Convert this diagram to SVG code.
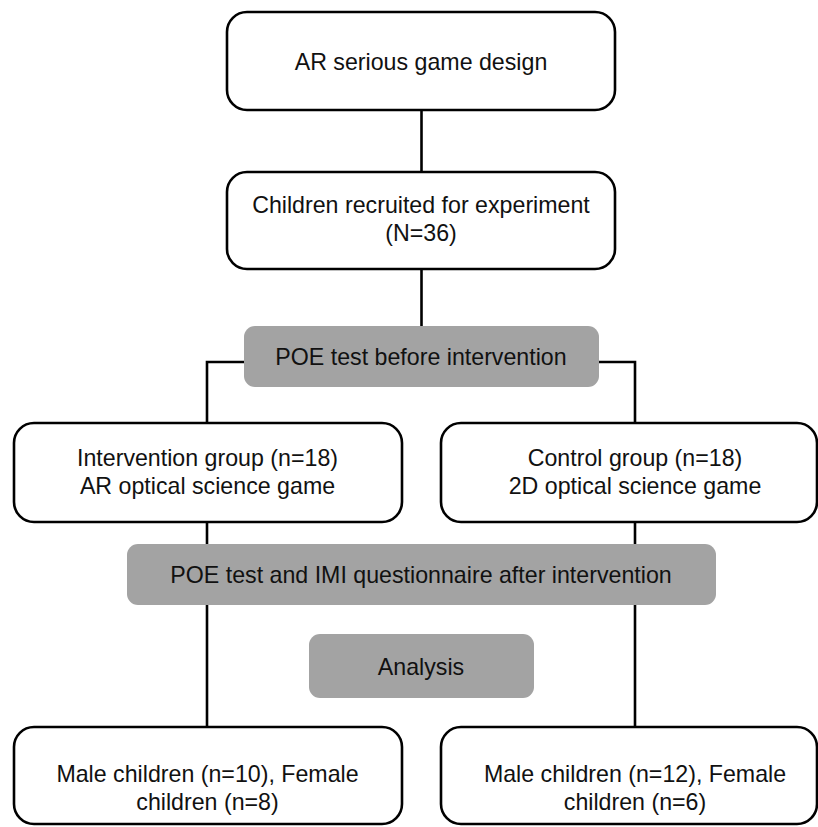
<svg xmlns="http://www.w3.org/2000/svg" width="818" height="827" viewBox="0 0 818 827">
<style>
.box{fill:#ffffff;stroke:#000000;stroke-width:2.6}
.gray{fill:#a3a3a3;stroke:none}
.line{fill:none;stroke:#000000;stroke-width:2.6}
text{font-family:"Liberation Sans",Arial,Helvetica,sans-serif;font-size:23.2px;fill:#111111;text-anchor:middle}
</style>
<rect width="818" height="827" fill="#ffffff"/>
<g id="connectors">
<line class="line" x1="421.5" y1="110" x2="421.5" y2="172"/>
<line class="line" x1="421.5" y1="269" x2="421.5" y2="326"/>
<polyline class="line" points="244,362 207,362 207,423"/>
<polyline class="line" points="599,362 635,362 635,423"/>
<line class="line" x1="207" y1="522" x2="207" y2="727"/>
<line class="line" x1="635" y1="522" x2="635" y2="727"/>
</g>
<g id="node-design">
<rect class="box" x="227" y="12" width="388" height="98" rx="20"/>
<text x="421" y="70">AR serious game design</text>
</g>
<g id="node-recruited">
<rect class="box" x="227" y="172" width="388" height="97" rx="20"/>
<text x="421" y="213">Children recruited for experiment</text>
<text x="421" y="241">(N=36)</text>
</g>
<g id="node-poe-before">
<rect class="gray" x="244" y="326" width="355" height="61" rx="11"/>
<text x="421" y="365">POE test before intervention</text>
</g>
<g id="node-intervention">
<rect class="box" x="14" y="423" width="388" height="99" rx="20"/>
<text x="207.5" y="466">Intervention group (n=18)</text>
<text x="207.5" y="494">AR optical science game</text>
</g>
<g id="node-control">
<rect class="box" x="441" y="423" width="376" height="99" rx="20"/>
<text x="635" y="466">Control group (n=18)</text>
<text x="635" y="494">2D optical science game</text>
</g>
<g id="node-poe-after">
<rect class="gray" x="127" y="544" width="589" height="61" rx="11"/>
<text x="421" y="583">POE test and IMI questionnaire after intervention</text>
</g>
<g id="node-analysis">
<rect class="gray" x="309" y="634" width="225" height="64" rx="11"/>
<text x="421" y="675">Analysis</text>
</g>
<g id="node-ar-gender">
<rect class="box" x="14" y="727" width="388" height="97" rx="20"/>
<text x="207.5" y="782">Male children (n=10), Female</text>
<text x="207.5" y="810">children (n=8)</text>
</g>
<g id="node-2d-gender">
<rect class="box" x="441" y="727" width="376" height="97" rx="20"/>
<text x="635" y="782">Male children (n=12), Female</text>
<text x="635" y="810">children (n=6)</text>
</g>
</svg>
